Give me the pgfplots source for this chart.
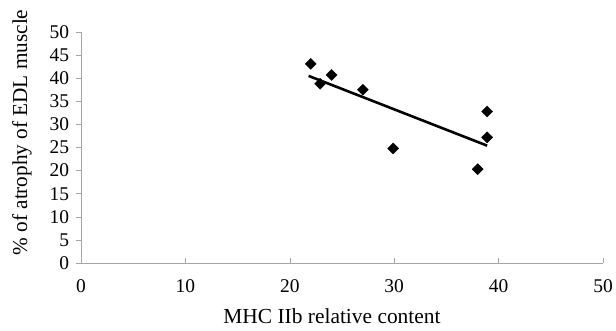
\documentclass[border=0pt]{standalone}
\usepackage{fontspec}
\setmainfont{Liberation Serif}
\usepackage{pgfplots}
\pgfplotsset{compat=1.18}
\begin{document}
\begin{tikzpicture}
\begin{axis}[
  scale only axis,
  width=522bp, height=231bp,
  xmin=0, xmax=50, ymin=0, ymax=50,
  axis x line*=bottom, axis y line*=left,
  axis line style={gray!70, line width=0.8pt},
  xtick={0,10,20,30,40,50},
  ytick={0,5,10,15,20,25,30,35,40,45,50},
  xtick align=inside, ytick align=outside,
  major tick length=5bp,
  tick style={gray!70, line width=0.6pt},
  /pgf/number format/assume math mode=true,
  ticklabel style={font=\fontsize{19.5}{19.5}\selectfont},
  xticklabel style={yshift=-13bp},
  yticklabel style={xshift=-3.5bp},
  xlabel={MHC IIb relative content},
  ylabel={\% of atrophy of EDL muscle},
  every axis x label/.style={at={([xshift=-10bp,yshift=-53bp]axis description cs:0.5,0)}, anchor=center, font=\fontsize{21.5}{21.5}\selectfont},
  every axis y label/.style={at={([xshift=-59bp,yshift=15bp]axis description cs:0,0.5)}, anchor=center, rotate=90, font=\fontsize{21.3}{21.3}\selectfont},
  clip=false,
]
\addplot[only marks, mark=square*, mark size=3.9bp, mark options={rotate=45}, black] coordinates {
  (22.0,43.1) (22.9,38.8) (24.0,40.7) (27.0,37.5) (29.9,24.8)
  (38.0,20.3) (38.9,32.8) (38.9,27.2)
};
\addplot[black, line width=2.6pt] coordinates {(21.8,40.5) (38.9,25.4)};
\end{axis}
\pgfresetboundingbox
\path[use as bounding box] ([xshift=-81bp,yshift=-68bp]current axis.south west) rectangle ([xshift=13bp,yshift=32bp]current axis.north east);
\end{tikzpicture}
\end{document}
